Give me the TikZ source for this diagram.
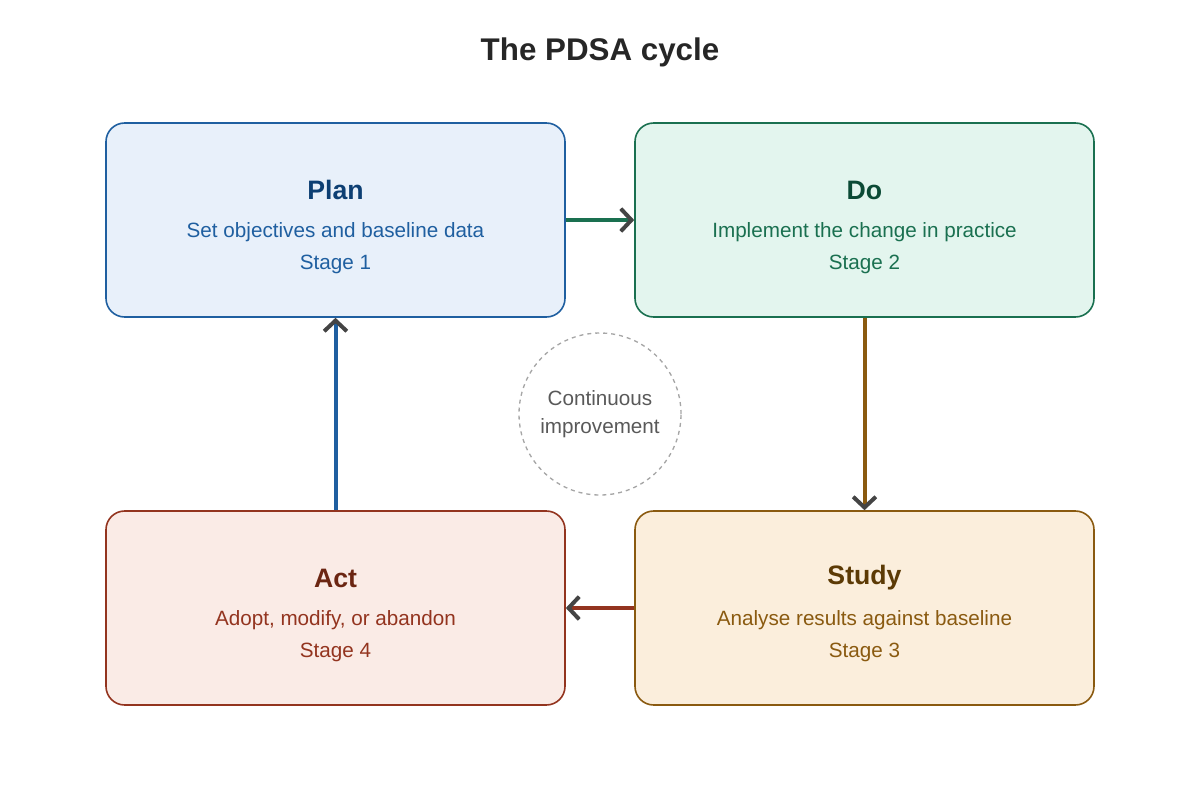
\documentclass[tikz,border=0pt]{standalone}
\usepackage{fontspec}
\setmainfont{Liberation Sans}
\usetikzlibrary{arrows.meta}
\definecolor{planfill}{HTML}{E8F0FA}\definecolor{planline}{HTML}{1F5FA0}\definecolor{plantitle}{HTML}{0D3F73}
\definecolor{dofill}{HTML}{E3F5EE}\definecolor{doline}{HTML}{1A7050}\definecolor{dotitle}{HTML}{0B4A35}
\definecolor{studyfill}{HTML}{FBEEDC}\definecolor{studyline}{HTML}{8A5A10}\definecolor{studytitle}{HTML}{5C3A05}
\definecolor{actfill}{HTML}{FAEBE6}\definecolor{actline}{HTML}{93341F}\definecolor{acttitle}{HTML}{6B2512}
\definecolor{tipgray}{HTML}{444444}
\tikzset{
  stage/.style={draw, line width=1.2pt, rounded corners=14pt, minimum width=344.25pt, minimum height=145.5pt},
  flow/.style={line width=3pt, -{Straight Barb[color=tipgray, length=8pt, width=17pt, line width=3pt]}},
}
\begin{document}
\begin{tikzpicture}[x=0.75pt,y=-0.75pt]
\useasboundingbox (0,0) rectangle (1200,811);
\node[font=\bfseries\fontsize{23.5}{27}\selectfont, text=black!85] (title) at (600,52) {The PDSA cycle};

\node[stage, fill=planfill, draw=planline] (plan) at (335.5,220) {};
\node[stage, fill=dofill, draw=doline] (do) at (864.5,220) {};
\node[stage, fill=studyfill, draw=studyline] (study) at (864.5,608) {};
\node[stage, fill=actfill, draw=actline] (act) at (335.5,608) {};

\foreach \n/\t/\d/\s in {plan/Plan/{Set objectives and baseline data}/1,
    do/Do/{Implement the change in practice}/2,
    study/Study/{Analyse results against baseline}/3,
    act/Act/{Adopt, modify, or abandon}/4}{
  \node[font=\bfseries\fontsize{20}{24}\selectfont, text=\n title] at ([yshift=22.5pt]\n.center) {\t};
  \node[font=\fontsize{15.5}{18}\selectfont, text=\n line] at ([yshift=-9pt]\n.center) {\d};
  \node[font=\fontsize{15.5}{18}\selectfont, text=\n line] at ([yshift=-33pt]\n.center) {Stage \s};
}

\node[circle, draw=gray!70, dashed, line width=1pt, minimum size=121.5pt, align=center,
  font=\fontsize{15.5}{21}\selectfont, text=black!65] (loop) at (600,414) {Continuous\\improvement};

\draw[flow, draw=doline] (plan.east) -- (do.west);
\draw[flow, draw=studyline] (do.south) -- (study.north);
\draw[flow, draw=actline] (study.west) -- (act.east);
\draw[flow, draw=planline] (act.north) -- (plan.south);
\end{tikzpicture}
\end{document}
